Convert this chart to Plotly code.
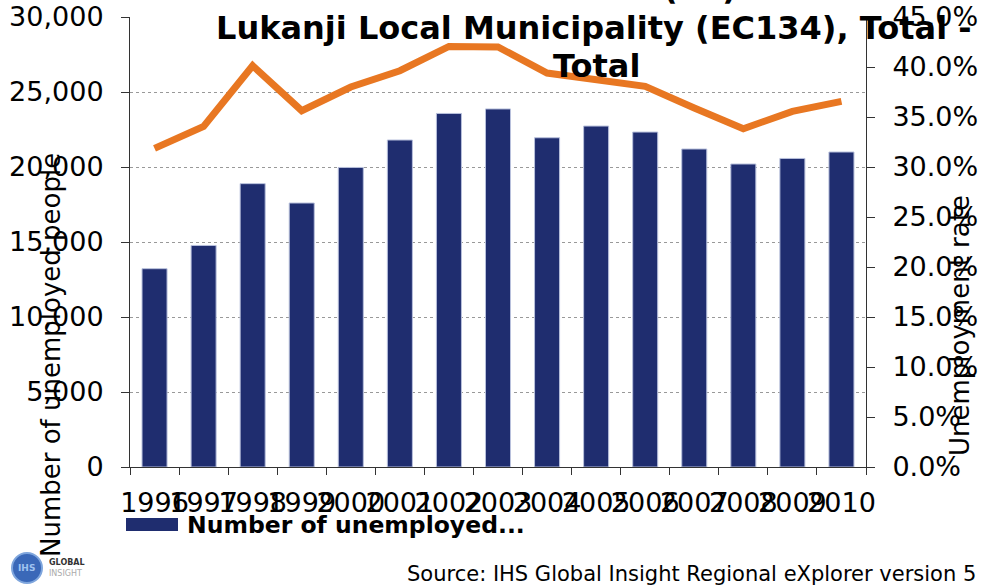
import plotly.graph_objects as go

# Years and series values
years = ["1996", "1997", "1998", "1999", "2000", "2001", "2002", "2003",
         "2004", "2005", "2006", "2007", "2008", "2009", "2010"]
unemployed = [13220, 14770, 18890, 17600, 19970, 21800, 23570, 23870,
              21950, 22730, 22330, 21200, 20200, 20570, 21000]
unemp_rate = [0.3186, 0.3406, 0.4013, 0.3563, 0.3800, 0.3963, 0.4206, 0.4200,
              0.3940, 0.3880, 0.3806, 0.3590, 0.3383, 0.3556, 0.3656]

left_ticks = [0, 5000, 10000, 15000, 20000, 25000, 30000]
right_ticks = [0, 0.05, 0.10, 0.15, 0.20, 0.25, 0.30, 0.35, 0.40, 0.45]

NAVY = "#1F2D6F"
ORANGE = "#E87722"
FONT = "DejaVu Sans"

W, H = 982, 587
L, R, T, B = 130, 116, 17, 120
PW, PH = W - L - R, H - T - B


def px(x):
    return (x - L) / PW


def py(y):
    return (H - B - y) / PH


fig = go.Figure()

fig.add_trace(go.Bar(
    x=years, y=unemployed, name="Number of unemployed people",
    marker=dict(color=NAVY, line=dict(color="#B8C0DC", width=1)),
    yaxis="y", showlegend=False,
))

fig.add_trace(go.Scatter(
    x=years, y=unemp_rate, name="Unemployment rate", mode="lines",
    line=dict(color=ORANGE, width=7), yaxis="y2", showlegend=False,
))

fig.update_layout(
    width=W, height=H,
    margin=dict(l=L, r=R, t=T, b=B, pad=0, autoexpand=False),
    paper_bgcolor="white", plot_bgcolor="white",
    font=dict(family=FONT, size=27, color="black"),
    bargap=0.49,
    xaxis=dict(
        type="category", showline=True, linecolor="#333", linewidth=1,
        ticks="outside", tickson="boundaries", ticklen=7, tickcolor="#333",
        tickangle=0, ticklabelstandoff=12,
        tickfont=dict(size=27), showgrid=False, zeroline=False,
        automargin=False,
    ),
    yaxis=dict(
        range=[0, 30000], tickvals=left_ticks, tickformat=",",
        showline=True, linecolor="#333", linewidth=1,
        ticks="outside", ticklen=8, tickcolor="#333", ticklabelstandoff=12,
        showgrid=True, gridcolor="#999", griddash="dot", gridwidth=1,
        zeroline=False, tickfont=dict(size=27), automargin=False,
    ),
    yaxis2=dict(
        range=[0, 0.45], tickvals=right_ticks, tickformat=".1%",
        overlaying="y", side="right", showgrid=False, zeroline=False,
        showline=True, linecolor="#333", linewidth=1,
        ticks="outside", ticklen=8, tickcolor="#333", ticklabelstandoff=12,
        tickfont=dict(size=27), automargin=False,
    ),
)

annotations = [
    # clipped first title line
    dict(text="<b>(    )</b>", x=px(700), y=py(-12), font=dict(size=32)),
    dict(text="<b>Lukanji Local Municipality (EC134), Total -</b>",
         x=px(594), y=py(28), font=dict(size=32)),
    dict(text="<b>Total</b>", x=px(596), y=py(66), font=dict(size=32)),
    # axis titles
    dict(text="Number of unemployed people", x=px(51), y=py(355),
         textangle=-90, font=dict(size=26)),
    dict(text="Unemployment rate", x=px(960), y=py(326),
         textangle=-90, font=dict(size=26)),
    # legend label
    dict(text="<b>Number of unemployed...</b>", x=px(185), y=py(525),
         xanchor="left", font=dict(size=23.5)),
    # source note
    dict(text="Source: IHS Global Insight Regional eXplorer version 5",
         x=px(978), y=py(574), xanchor="right", font=dict(size=21)),
    # logo text
    dict(text="<b>IHS</b>", x=px(27), y=py(568), font=dict(size=9, color="#9FC3F0")),
    dict(text="<b>GLOBAL</b>", x=px(47), y=py(562), xanchor="left",
         font=dict(size=8, color="#333")),
    dict(text="INSIGHT", x=px(47), y=py(573), xanchor="left",
         font=dict(size=8, color="#AAA")),
]
for a in annotations:
    a.setdefault("xanchor", "center")
    fig.add_annotation(xref="paper", yref="paper", showarrow=False,
                       yanchor="middle", **a)

shapes = [
    # legend swatch
    dict(type="rect", x0=px(126), x1=px(178), y0=py(531), y1=py(518),
         fillcolor=NAVY, line=dict(width=0)),
    # logo globe
    dict(type="circle", x0=px(12), x1=px(42), y0=py(583), y1=py(553),
         fillcolor="#3A68B8", line=dict(color="#7FA6DD", width=2)),
]
for s in shapes:
    fig.add_shape(xref="paper", yref="paper", layer="above", **s)

fig.write_html("out.html")
